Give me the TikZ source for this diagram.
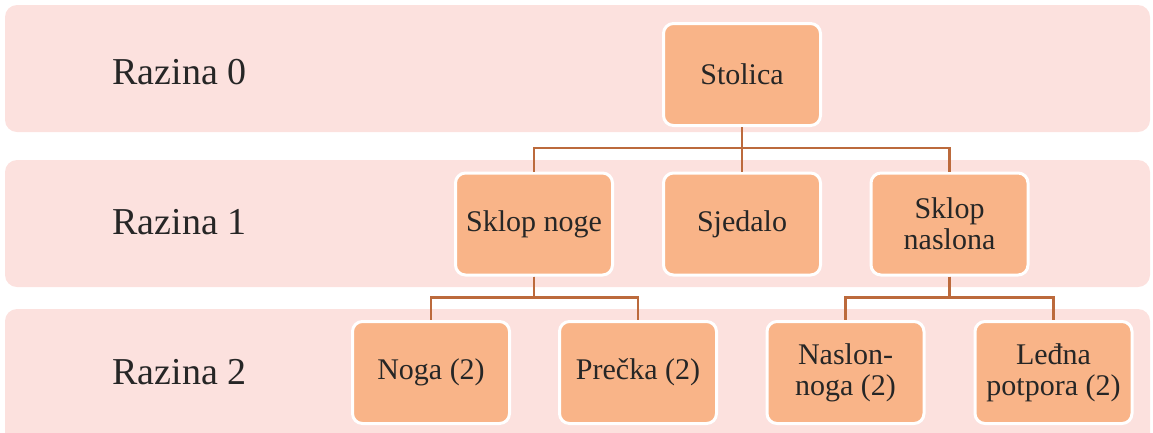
\documentclass[tikz,border=0pt]{standalone}
\usepackage{fontspec}
\setmainfont{Liberation Serif}
\usepackage{tikz}
\definecolor{pasraz}{HTML}{FCE1DE}
\definecolor{kutija}{HTML}{F9B488}
\definecolor{veza}{HTML}{BC6A3C}
\begin{document}
\begin{tikzpicture}[x=1pt, y=-1pt]
    \tikzset{
        razina_pas/.style={fill=pasraz, draw=none, rounded corners=12pt},
        razina_tekst/.style={anchor=west, text=black!85, font=\fontsize{38}{42}\selectfont},
        dio/.style={draw=white, line width=3pt, fill=kutija, rounded corners=10pt,
                    minimum width=157pt, minimum height=102pt, align=center,
                    text=black!85, font=\fontsize{30}{31}\selectfont},
        spoj/.style={draw=veza, line width=2.6pt}
    }
    \useasboundingbox (0,0) rectangle (1153,432);

    % --- Pozadinske trake razina ---
    \foreach \gore / \dolje / \sred / \br in {5/132/72/0, 160/287/222/1, 309/445/372/2} {
        \fill[razina_pas] (5,\gore) rectangle (1150,\dolje);
        \node[razina_tekst] (razina\br) at (109,\sred) {Razina \br};
    }

    % --- Razina 0 ---
    \node[dio] (stolica) at (742,74.5) {Stolica};

    % --- Razina 1 ---
    \node[dio] (sklopnoge)    at (534,224) {Sklop noge};
    \node[dio] (sjedalo)      at (742,224) {Sjedalo};
    \node[dio] (sklopnaslona) at (949.5,224) {Sklop\\naslona};

    % --- Razina 2 ---
    \node[dio] (noga)    at (431,372.5)    {Noga (2)};
    \node[dio] (precka)  at (638,372.5)    {Prečka (2)};
    \node[dio] (naslon)  at (845.5,372.5)  {Naslon-\\noga (2)};
    \node[dio] (potpora) at (1053.5,372.5) {Leđna\\potpora (2)};

    % --- Veze ---
    \draw[spoj] (stolica.south) -- ++(0,21) -| (sklopnoge.north);
    \draw[spoj] (stolica.south) -- (sjedalo.north);
    \draw[spoj] (stolica.south) -- ++(0,21) -| (sklopnaslona.north);

    \draw[spoj] (sklopnoge.south) -- ++(0,21) -| (noga.north);
    \draw[spoj] (sklopnoge.south) -- ++(0,21) -| (precka.north);

    \draw[spoj] (sklopnaslona.south) -- ++(0,21) -| (naslon.north);
    \draw[spoj] (sklopnaslona.south) -- ++(0,21) -| (potpora.north);

\end{tikzpicture}
\end{document}
